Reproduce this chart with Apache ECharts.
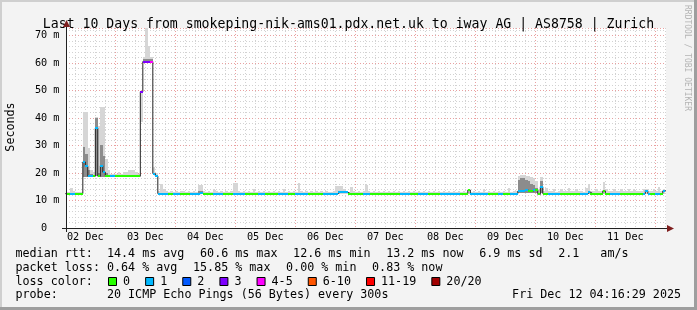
<!DOCTYPE html>
<html><head><meta charset="utf-8">
<script src="https://cdn.jsdelivr.net/npm/echarts@6/dist/echarts.min.js"></script>
<style>html,body{margin:0;padding:0;background:#f3f3f3}#c{width:697px;height:310px}</style>
</head><body><div id="c"></div>
<script>
// ---------------- data ----------------
const TITLE = 'Last 10 Days from smokeping-nik-ams01.pdx.net.uk to iway AG | AS8758 | Zurich';
const Y_LABEL = 'Seconds';
const WATERMARK = 'RRDTOOL / TOBI OETIKER';
// x axis in hours since 02 Dec 00:00 ; graph spans 02 Dec 04:16:29 .. 12 Dec 04:16:29
const X_MIN = 4.275, X_MAX = 244.275;
const FIRST_BIN_HOUR = 4;           // hourly consolidated bins start at 04:00
const dayLabels = ['02 Dec','03 Dec','04 Dec','05 Dec','06 Dec','07 Dec','08 Dec','09 Dec','10 Dec','11 Dec'];
const dayLabelHours = [12,36,60,84,108,132,156,180,204,228];
const midnightHours = [24,48,72,96,120,144,168,192,216,240];
const Y_MAX = 72.7;
const yTickValues = [0,10,20,30,40,50,60,70];

const lossColors = ['#26ff00','#00b8ff','#0059ff','#7e00ff','#ff00ff','#ff5500','#ff0000','#a10000'];
const lossLabels = ['0','1','2','3','4-5','6-10','11-19','20/20'];

// hourly median rtt (ms)
const medianMs = [
 12.5,12.5,12.5,12.5,12.5,12.5,12.5,24.0,22.4,18.8,
 18.8,18.8,36.3,18.8,22.6,20.3,18.8,18.8,18.8,18.8,
 18.8,18.8,18.8,18.8,18.8,18.8,18.8,18.8,18.8,18.8,
 49.5,60.5,60.5,60.5,60.5,19.8,18.9,12.5,12.5,12.5,
 12.5,12.5,12.5,12.5,12.5,12.5,12.5,12.5,12.5,12.5,
 12.5,12.5,12.5,12.5,12.6,12.5,12.5,12.5,12.5,12.5,
 12.5,12.5,12.5,12.5,12.5,12.5,12.5,12.5,12.5,12.5,
 12.5,12.5,12.5,12.5,12.5,12.5,12.5,12.5,12.5,12.5,
 12.5,12.5,12.5,12.5,12.5,12.5,12.5,12.5,12.5,12.5,
 12.5,12.5,12.5,12.5,12.5,12.5,12.5,12.5,12.5,12.5,
 12.5,12.5,12.5,12.5,12.5,12.5,12.5,12.5,12.5,13.0,
 13.0,13.0,13.0,12.5,12.5,12.5,12.5,12.5,12.5,12.5,
 12.5,12.5,12.5,12.5,12.5,12.5,12.5,12.5,12.5,12.5,
 12.5,12.5,12.5,12.5,12.5,12.5,12.5,12.5,12.5,12.5,
 12.5,12.5,12.5,12.5,12.5,12.5,12.5,12.5,12.5,12.5,
 12.5,12.5,12.5,12.5,12.5,12.5,12.5,12.5,12.5,12.5,
 12.5,13.8,12.5,12.5,12.5,12.5,12.5,12.5,12.5,12.5,
 12.5,12.5,12.5,12.5,12.5,12.5,12.5,12.5,12.5,12.5,
 12.5,13.4,13.4,13.6,13.8,13.4,13.4,13.8,13.8,12.2,
 15.0,12.5,12.5,12.5,12.5,12.5,12.5,12.5,12.5,12.5,
 12.5,12.5,12.5,12.5,12.5,12.5,12.5,12.5,12.5,13.0,
 12.5,12.5,12.5,12.5,12.5,13.5,12.5,12.5,12.5,12.5,
 12.5,12.5,12.5,12.5,12.5,12.5,12.5,12.5,12.5,12.5,
 12.5,12.5,13.6,12.5,12.5,12.5,12.3,12.3,12.5,13.5
];
// loss level index into lossColors, per hour
const lossLevel = [
 0,0,1,1,0,0,0,1,1,1,
 1,0,1,0,1,1,0,0,1,1,
 0,0,0,0,0,0,0,0,0,0,
 3,3,3,3,4,1,1,1,1,1,
 1,0,0,1,1,1,0,0,0,0,
 1,1,1,1,1,0,0,0,0,1,
 1,1,1,0,0,0,0,1,1,1,
 1,1,0,0,0,0,0,1,1,1,
 0,0,0,0,0,1,1,1,1,0,
 0,0,1,1,1,1,1,0,0,0,
 0,0,0,1,1,1,1,1,1,1,
 1,1,1,0,0,0,0,0,0,1,
 1,1,0,0,0,0,0,0,0,0,
 0,0,0,0,1,1,1,1,0,0,
 0,1,1,1,1,0,0,0,0,0,
 1,1,1,1,1,1,1,1,0,0,
 0,0,1,1,1,1,1,1,1,0,
 0,0,0,1,1,0,0,0,1,1,
 1,1,1,1,1,0,0,1,0,0,
 1,0,0,1,1,1,1,1,0,0,
 0,0,0,0,0,0,1,1,1,1,
 0,0,0,0,0,0,0,0,1,1,
 1,1,0,0,0,0,0,0,0,0,
 0,1,1,1,0,0,1,1,0,1
];
// smoke: bottom, top of dark core, top of light smoke (ms)
const smokeLo = [
 12.2,12.2,12.2,12.2,12.2,12.2,12.2,18.5,18.5,18.5,
 18.5,18.5,19.0,18.5,18.5,18.5,18.5,18.5,18.5,18.5,
 18.5,18.5,18.5,18.5,18.5,18.5,18.5,18.5,18.5,18.5,
 38.5,60.0,60.0,60.0,60.0,19.3,18.5,12.2,12.2,12.2,
 12.2,12.2,12.2,12.2,12.2,12.2,12.2,12.2,12.2,12.2,
 12.2,12.2,12.2,12.2,12.2,12.2,12.2,12.2,12.2,12.2,
 12.2,12.2,12.2,12.2,12.2,12.2,12.2,12.2,12.2,12.2,
 12.2,12.2,12.2,12.2,12.2,12.2,12.2,12.2,12.2,12.2,
 12.2,12.2,12.2,12.2,12.2,12.2,12.2,12.2,12.2,12.2,
 12.2,12.2,12.2,12.2,12.2,12.2,12.2,12.2,12.2,12.2,
 12.2,12.2,12.2,12.2,12.2,12.2,12.2,12.2,12.2,12.2,
 12.2,12.2,12.2,12.2,12.2,12.2,12.2,12.2,12.2,12.2,
 12.2,12.2,12.2,12.2,12.2,12.2,12.2,12.2,12.2,12.2,
 12.2,12.2,12.2,12.2,12.2,12.2,12.2,12.2,12.2,12.2,
 12.2,12.2,12.2,12.2,12.2,12.2,12.2,12.2,12.2,12.2,
 12.2,12.2,12.2,12.2,12.2,12.2,12.2,12.2,12.2,12.2,
 12.2,12.2,12.2,12.2,12.2,12.2,12.2,12.2,12.2,12.2,
 12.2,12.2,12.2,12.2,12.2,12.2,12.2,12.2,12.2,12.2,
 12.2,12.8,12.8,12.8,12.8,12.8,12.8,12.8,12.8,12.2,
 12.8,12.2,12.2,12.2,12.2,12.2,12.2,12.2,12.2,12.2,
 12.2,12.2,12.2,12.2,12.2,12.2,12.2,12.2,12.2,12.2,
 12.2,12.2,12.2,12.2,12.2,12.2,12.2,12.2,12.2,12.2,
 12.2,12.2,12.2,12.2,12.2,12.2,12.2,12.2,12.2,12.2,
 12.2,12.2,12.2,12.2,12.2,12.2,12.2,12.2,12.2,12.2
];
const smokeDark = [
 0,0,0,0,0,0,0,29.5,27.0,21.0,
 19.5,19.3,40.0,20.0,30.0,26.0,20.0,19.3,0,0,
 0,0,0,0,0,0,0,0,0,0,
 0,61.6,61.6,61.6,61.6,0,0,0,0,0,
 0,0,0,0,0,0,0,0,0,0,
 0,0,0,13.6,13.6,0,0,0,0,0,
 0,0,0,0,0,0,0,0,0,0,
 0,0,0,0,0,0,0,0,0,0,
 0,0,0,0,0,0,0,0,0,0,
 0,0,0,0,0,0,0,0,0,0,
 0,0,0,0,0,0,0,0,0,0,
 0,0,0,0,0,0,0,0,0,0,
 0,0,0,0,0,0,0,0,0,0,
 0,0,0,0,0,0,0,0,0,0,
 0,0,0,0,0,0,0,0,0,0,
 0,0,0,0,0,0,0,0,0,0,
 0,0,0,0,0,0,0,0,0,0,
 0,0,0,0,0,0,0,0,0,0,
 0,17.5,18.0,18.0,17.5,17.0,16.0,15.5,14.5,0,
 17.0,0,0,0,0,0,0,0,0,0,
 0,0,0,0,0,0,0,0,0,0,
 0,0,0,0,0,0,0,0,0,0,
 0,0,0,0,0,0,0,0,0,0,
 0,0,0,0,0,0,0,0,0,0
];
const smokeHi = [
 13.2,13.2,14.5,13.4,13.2,13.2,13.2,42.0,42.0,29.0,
 21.0,20.5,40.5,37.0,44.0,44.0,25.0,21.0,19.8,19.8,
 19.8,20.2,19.8,20.2,20.5,21.0,21.0,21.0,20.2,19.8,
 49.5,62.0,72.7,66.0,62.0,22.3,20.0,13.5,16.0,14.0,
 13.5,13.2,13.3,13.2,13.5,13.2,13.3,13.6,13.2,13.4,
 13.2,13.3,13.2,15.6,15.6,13.4,13.2,13.3,13.2,14.0,
 13.3,13.2,13.5,13.2,13.3,13.2,13.4,16.2,16.2,13.3,
 13.2,13.4,13.2,13.3,13.2,14.0,13.2,13.3,13.2,13.4,
 13.2,13.3,13.2,13.4,13.2,13.3,13.2,14.0,13.2,13.3,
 13.2,13.4,13.2,16.2,13.3,13.2,13.3,13.2,13.4,13.2,
 13.3,13.2,13.4,13.2,13.3,13.2,13.2,13.4,15.4,15.4,
 15.4,14.0,13.4,13.2,14.8,13.3,13.2,13.4,13.2,13.3,
 15.6,13.3,13.2,13.4,13.2,13.3,13.2,13.4,13.2,13.3,
 13.2,13.4,13.2,13.3,13.2,13.4,13.2,13.3,13.2,13.4,
 13.2,13.3,13.2,13.4,13.2,13.3,13.2,13.4,13.2,13.3,
 13.2,13.4,13.2,13.3,13.2,13.4,13.2,13.3,13.2,13.4,
 13.2,14.2,13.2,13.3,13.2,13.4,13.2,14.2,13.2,13.3,
 13.2,13.4,13.2,13.3,13.2,13.4,13.2,14.5,13.2,13.3,
 13.5,19.0,19.2,19.2,19.0,19.0,18.5,18.0,17.0,14.0,
 18.6,13.5,14.5,13.4,13.3,14.0,13.2,13.4,14.2,13.3,
 13.4,14.5,13.3,13.4,14.0,13.3,13.5,13.2,14.4,15.9,
 13.4,13.3,14.2,13.4,13.3,16.8,14.0,13.4,13.3,14.2,
 13.4,13.3,14.0,13.4,13.3,14.2,13.4,14.0,13.3,13.4,
 13.3,14.2,14.0,13.4,13.3,14.0,13.4,15.0,13.3,14.2
];

// legend rows: items as printed by the graphing tool
const rttItems = ['median rtt:  14.4 ms avg', '60.6 ms max', '12.6 ms min', '13.2 ms now', '6.9 ms sd', '2.1   am/s'];
const lossItems = ['packet loss: 0.64 % avg', '15.85 % max', '0.00 % min', '0.83 % now'];
const lossTitle = 'loss color:';
const probeText = 'probe:       20 ICMP Echo Pings (56 Bytes) every 300s';
const dateText = 'Fri Dec 12 04:16:29 2025';

// ---------------- chart ----------------
const FONT = "'DejaVu Sans Mono', monospace";
const FS = 11.7, CW = 7.04, GLUE = 15.6, AXFS = 10.2;
const chart = echarts.init(document.getElementById('c'), null, {renderer: 'canvas', width: 697, height: 310});

const smokeData = medianMs.map((m, i) => [FIRST_BIN_HOUR + i, smokeLo[i], smokeDark[i], smokeHi[i]]);
const lineData = medianMs.map((m, i) => [FIRST_BIN_HOUR + i, m]);
lineData.push([X_MAX, medianMs[medianMs.length - 1]]);
const bandData = medianMs.map((m, i) => [FIRST_BIN_HOUR + i, m, lossLevel[i]]);

const minorHours = [];
for (let h = 8; h <= 244; h += 4) if (h % 24 !== 0) minorHours.push(h);

function renderSmoke(params, api) {
  const x = api.value(0), lo = api.value(1), dk = api.value(2), hi = api.value(3);
  const a = api.coord([x, lo]), b = api.coord([x + 1, hi]);
  const x0 = Math.round(a[0]), x1 = Math.round(b[0]);
  const children = [{type: 'rect', shape: {x: x0, y: Math.round(b[1]), width: x1 - x0, height: Math.round(a[1]) - Math.round(b[1])}, style: {fill: '#d6d6d6'}}];
  if (dk > lo) {
    const c = api.coord([x, dk]);
    children.push({type: 'rect', shape: {x: x0, y: Math.round(c[1]), width: x1 - x0, height: Math.round(a[1]) - Math.round(c[1])}, style: {fill: '#8c8c8c'}});
  }
  return {type: 'group', children};
}
function renderBand(params, api) {
  const x = api.value(0), m = api.value(1), lv = api.value(2);
  const a = api.coord([x, m]), b = api.coord([x + 1, m]);
  const x0 = Math.round(a[0]), x1 = Math.round(b[0]);
  return {type: 'rect', shape: {x: x0, y: Math.round(a[1]) - 1, width: x1 - x0, height: 2}, style: {fill: lossColors[lv]}};
}

const graphics = [];
const txt = (x, y, t, extra) => Object.assign({type: 'text', x, y, style: Object.assign({text: t, fontFamily: FONT, fontSize: FS, fill: '#000', verticalAlign: 'middle'}, extra || {})});
// frame
graphics.push({type: 'rect', shape: {x: 0, y: 0, width: 697, height: 2}, style: {fill: '#cfcfcf'}, silent: true});
graphics.push({type: 'rect', shape: {x: 0, y: 0, width: 2, height: 310}, style: {fill: '#cfcfcf'}, silent: true});
graphics.push({type: 'rect', shape: {x: 0, y: 307, width: 697, height: 3}, style: {fill: '#9e9e9e'}, silent: true});
graphics.push({type: 'rect', shape: {x: 694, y: 0, width: 3, height: 310}, style: {fill: '#9e9e9e'}, silent: true});
// axis lines and arrows
graphics.push({type: 'line', shape: {x1: 62, y1: 228.5, x2: 668, y2: 228.5}, style: {stroke: '#202020', lineWidth: 1}, z: 10});
graphics.push({type: 'line', shape: {x1: 66.5, y1: 232, x2: 66.5, y2: 24}, style: {stroke: '#202020', lineWidth: 1}, z: 10});
graphics.push({type: 'polygon', shape: {points: [[667, 225], [674, 228.5], [667, 232]]}, style: {fill: '#7f1f1f'}, z: 10});
graphics.push({type: 'polygon', shape: {points: [[63, 27], [66.5, 20], [70, 27]]}, style: {fill: '#7f1f1f'}, z: 10});
// y name
graphics.push(Object.assign(txt(10.5, 127, Y_LABEL, {align: 'center'}), {rotation: Math.PI / 2}));
// watermark
graphics.push(Object.assign(txt(687, 5, WATERMARK, {fontSize: 8, fill: '#b4b4b4'}), {rotation: -Math.PI / 2}));
// legend rows
const X0 = 15.5;
const rowY = [254.4, 267.8, 281.6, 295.2];
function placeRow(items, y) {
  let x = X0;
  items.forEach(t => { graphics.push(txt(x, y, t)); x += CW * t.length + GLUE; });
}
placeRow(rttItems, rowY[0]);
placeRow(lossItems, rowY[1]);
graphics.push(txt(X0, rowY[2], lossTitle));
let bx = 108;
lossLabels.forEach((lab, k) => {
  graphics.push({type: 'rect', shape: {x: bx + 0.5, y: 277.5, width: 8, height: 8}, style: {fill: lossColors[k], stroke: '#000', lineWidth: 1}});
  graphics.push(txt(bx + 15, rowY[2], lab));
  bx += 30.1 + CW * lab.length;
});
graphics.push(txt(X0, rowY[3], probeText));
graphics.push(txt(681, rowY[3], dateText, {align: 'right'}));

const option = {
  backgroundColor: '#f3f3f3',
  animation: false,
  title: {text: TITLE, left: 'center', top: 13, textStyle: {fontFamily: FONT, fontSize: 13.2, fontWeight: 'normal', color: '#000'}},
  grid: {left: 66, top: 28, width: 600, height: 200, show: true, backgroundColor: '#ffffff', borderWidth: 0},
  xAxis: [
    {type: 'value', min: X_MIN, max: X_MAX,
     axisLine: {show: false},
     axisTick: {show: false, customValues: midnightHours},
     axisLabel: {customValues: dayLabelHours, formatter: v => dayLabels[dayLabelHours.indexOf(v)] || '', fontFamily: FONT, fontSize: AXFS, color: '#000', margin: 4},
     splitLine: {show: true, lineStyle: {color: '#e9a0a0', width: 1, type: [1, 2]}}},
    {type: 'value', min: X_MIN, max: X_MAX, position: 'bottom',
     axisLine: {show: false},
     axisTick: {show: false, customValues: minorHours},
     axisLabel: {show: false},
     splitLine: {show: true, lineStyle: {color: '#d2d2d2', width: 1, type: [1, 2]}}}
  ],
  yAxis: {type: 'value', min: 0, max: Y_MAX, interval: 10,
    axisLine: {show: false}, axisTick: {show: false},
    axisLabel: {customValues: yTickValues, formatter: v => v === 0 ? '0  ' : v + ' m', fontFamily: FONT, fontSize: AXFS, color: '#000', margin: 6.5},
    splitLine: {show: true, lineStyle: {color: '#e9a0a0', width: 1, type: [1, 2]}},
    minorTick: {show: false, splitNumber: 5},
    minorSplitLine: {show: true, lineStyle: {color: '#d2d2d2', width: 1, type: [1, 2]}}},
  series: [
    {type: 'custom', name: 'smoke', renderItem: renderSmoke, data: smokeData, clip: true, z: 2, silent: true},
    {type: 'line', name: 'median', data: lineData, step: 'end', symbol: 'none', lineStyle: {color: '#202020', width: 1}, z: 3, silent: true},
    {type: 'custom', name: 'loss', renderItem: renderBand, data: bandData, clip: true, z: 4, silent: true}
  ],
  graphic: graphics
};
chart.setOption(option);
</script></body></html>
